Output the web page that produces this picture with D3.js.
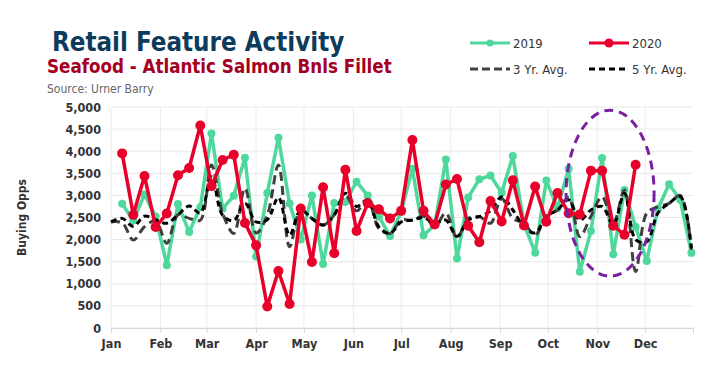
<!DOCTYPE html>
<html>
<meta charset="utf-8">
<head>
<title>Retail Feature Activity</title>
<script src="https://cdnjs.cloudflare.com/ajax/libs/d3/7.8.5/d3.min.js"></script>
<style>
    body { margin: 0; background: #fff; }
    text { font-family: "DejaVu Sans Condensed", "DejaVu Sans", sans-serif; }
</style>
</head>

<body>
<script>

const width = 711,
    height = 388;

// Weekly values, week 1 = Jan 8
const sales2019 = [2810, 2430, 3020, 2520, 1420, 2805, 2170, 2730, 4400, 2700,
    2990, 3850, 1615, 3055, 4305, 2815, 2000, 2995, 1450, 2830,
    2850, 3310, 2995, 2520, 2080, 2630, 3605, 2100, 2330, 3815,
    1570, 2955, 3365, 3450, 3060, 3890, 2350, 1705, 3335, 2710,
    3605, 1270, 2195, 3845, 1670, 3120, 2290, 1515, 2700, 3250,
    2900, 1700];

const sales2020 = [3950, 2560, 3440, 2285, 2590, 3455, 3620, 4580, 3210, 3800,
    3920, 2375, 1870, 485, 1290, 545, 2705, 1495, 3185, 1690,
    3580, 2195, 2820, 2685, 2480, 2650, 4255, 2650, 2340, 3245,
    3370, 2315, 1940, 2873, 2410, 3340, 2320, 3200, 2405, 3055,
    2595, 2570, 3560, 3560, 2315, 2110, 3695];

// Averages, week 0 = Jan 1
const avg3yr = [2400, 2380, 1990, 2290, 2420, 1920, 2560, 2480, 2440, 3690,
    2600, 2140, 3160, 2150, 2550, 3690, 1840, 2670, 2480, 2330,
    2560, 3000, 2650, 2900, 2250, 2140, 2440, 2440, 2530, 2300,
    2600, 2040, 2480, 2520, 2370, 2930, 2480, 2370, 2100, 2530,
    2670, 2950, 2070, 2530, 2970, 2370, 3120, 1280, 2600, 2740,
    2820, 3000, 1770];

const avg5yr = [2400, 2480, 2300, 2530, 2450, 2370, 2560, 2760, 2600, 3420,
    2550, 2430, 2820, 2400, 2450, 2950, 2100, 2670, 2480, 2330,
    2560, 3050, 2750, 2900, 2290, 2140, 2400, 2440, 2500, 2370,
    2440, 2070, 2440, 2520, 2650, 2970, 2670, 2290, 2150, 2520,
    2670, 2900, 2440, 2670, 2750, 2330, 3050, 2000, 1950, 2600,
    2820, 2970, 1800];

const yTicks = [0, 500, 1000, 1500, 2000, 2500, 3000, 3500, 4000, 4500, 5000];

const start = new Date(2020, 0, 1);
const weekDate = i => d3.timeDay.offset(start, 7 * i);

const svg = d3.select("body")
    .append("svg")
    .attr("width", width)
    .attr("height", height);

const x = d3.scaleTime()
    .domain([start, new Date(2020, 11, 31)])
    .range([111, 693]);

const y = d3.scaleLinear()
    .domain([0, 5000])
    .range([328, 107]);

// Gridlines
svg.append("g")
    .selectAll("line")
    .data(yTicks)
    .join("line")
    .attr("x1", 111)
    .attr("x2", 693)
    .attr("y1", d => y(d))
    .attr("y2", d => y(d))
    .attr("stroke", "#e8e8e8")
    .attr("stroke-width", 1);

const months = x.ticks(d3.timeMonth.every(1)).filter(d => d.getFullYear() === 2020);

svg.append("g")
    .selectAll("line")
    .data(months)
    .join("line")
    .attr("x1", d => x(d))
    .attr("x2", d => x(d))
    .attr("y1", y(5000))
    .attr("y2", y(0))
    .attr("stroke", "#ececec")
    .attr("stroke-width", 1);

// Axes
const yAxis = svg.append("g")
    .attr("transform", "translate(111,0)")
    .call(d3.axisLeft(y).tickValues(yTicks).tickSize(0).tickPadding(10).tickFormat(d3.format(",")));
yAxis.select(".domain").remove();
yAxis.selectAll("text")
    .attr("font-size", "12.5px")
    .attr("font-weight", "bold")
    .attr("fill", "#333");

const xAxis = svg.append("g")
    .attr("transform", `translate(0,${y(0)})`)
    .call(d3.axisBottom(x).tickValues(months).tickSize(5).tickPadding(6).tickFormat(d3.timeFormat("%b")));
xAxis.select(".domain").attr("stroke", "#d6d6d6");
xAxis.selectAll(".tick line").attr("stroke", "#d6d6d6");
xAxis.selectAll("text")
    .attr("font-size", "12.5px")
    .attr("font-weight", "bold")
    .attr("fill", "#333");

svg.append("text")
    .attr("transform", `translate(26,${y(2500)}) rotate(-90)`)
    .attr("text-anchor", "middle")
    .attr("font-size", "12px")
    .attr("font-weight", "bold")
    .attr("fill", "#333")
    .text("Buying Opps");

// Lines
const smooth = d3.line()
    .x((d, i) => x(weekDate(i)))
    .y(d => y(d))
    .curve(d3.curveCatmullRom.alpha(0.5));

const straight = d3.line()
    .x(d => x(weekDate(d.week)))
    .y(d => y(d.value));

const green = "#4ed89c",
    red = "#e8002b";

const pts2019 = sales2019.map((v, i) => ({week: i + 1, value: v}));
const pts2020 = sales2020.map((v, i) => ({week: i + 1, value: v}));

svg.append("path")
    .attr("d", straight(pts2019))
    .attr("fill", "none")
    .attr("stroke", green)
    .attr("stroke-width", 3.5)
    .attr("stroke-linejoin", "round");
svg.append("g")
    .selectAll("circle")
    .data(pts2019)
    .join("circle")
    .attr("cx", d => x(weekDate(d.week)))
    .attr("cy", d => y(d.value))
    .attr("r", 4)
    .attr("fill", green);

svg.append("path")
    .attr("d", smooth(avg3yr))
    .attr("fill", "none")
    .attr("stroke", "#404040")
    .attr("stroke-width", 3)
    .attr("stroke-dasharray", "9,5");

svg.append("path")
    .attr("d", smooth(avg5yr))
    .attr("fill", "none")
    .attr("stroke", "#000")
    .attr("stroke-width", 3)
    .attr("stroke-dasharray", "6,4");

svg.append("path")
    .attr("d", straight(pts2020))
    .attr("fill", "none")
    .attr("stroke", red)
    .attr("stroke-width", 3.5)
    .attr("stroke-linejoin", "round");
svg.append("g")
    .selectAll("circle")
    .data(pts2020)
    .join("circle")
    .attr("cx", d => x(weekDate(d.week)))
    .attr("cy", d => y(d.value))
    .attr("r", 5)
    .attr("fill", red);

// Highlight ellipse around Nov
svg.append("ellipse")
    .attr("cx", x(weekDate(44.8)))
    .attr("cy", y(3050))
    .attr("rx", 44)
    .attr("ry", 83)
    .attr("fill", "none")
    .attr("stroke", "#7a1fa2")
    .attr("stroke-width", 3)
    .attr("stroke-dasharray", "9,6");

// Titles
svg.append("text")
    .attr("x", 52)
    .attr("y", 51)
    .attr("font-size", "25.7px")
    .attr("font-weight", "bold")
    .attr("fill", "#0d3b5c")
    .text("Retail Feature Activity");
svg.append("text")
    .attr("x", 47)
    .attr("y", 73)
    .attr("font-size", "18.6px")
    .attr("font-weight", "bold")
    .attr("fill", "#a50021")
    .text("Seafood - Atlantic Salmon Bnls Fillet");
svg.append("text")
    .attr("x", 47)
    .attr("y", 93)
    .attr("font-size", "12px")
    .attr("fill", "#666")
    .text("Source: Urner Barry");

// Legend
const legend = [
    {label: "2019", x: 470, y: 43, color: green, dash: null, r: 3.5},
    {label: "2020", x: 589, y: 43, color: red, dash: null, r: 4.5},
    {label: "3 Yr. Avg.", x: 470, y: 69, color: "#404040", dash: "8,4", r: 0},
    {label: "5 Yr. Avg.", x: 589, y: 69, color: "#000", dash: "6,4", r: 0}
];

const lg = svg.append("g")
    .selectAll("g")
    .data(legend)
    .join("g");
lg.append("line")
    .attr("x1", d => d.x)
    .attr("x2", d => d.x + 40)
    .attr("y1", d => d.y)
    .attr("y2", d => d.y)
    .attr("stroke", d => d.color)
    .attr("stroke-width", 3)
    .attr("stroke-dasharray", d => d.dash);
lg.filter(d => d.r > 0)
    .append("circle")
    .attr("cx", d => d.x + 20)
    .attr("cy", d => d.y)
    .attr("r", d => d.r)
    .attr("fill", d => d.color);
lg.append("text")
    .attr("x", d => d.x + 43)
    .attr("y", d => d.y + 5)
    .attr("font-size", "13px")
    .attr("fill", "#333")
    .text(d => d.label);

</script>

</body>
</html>
